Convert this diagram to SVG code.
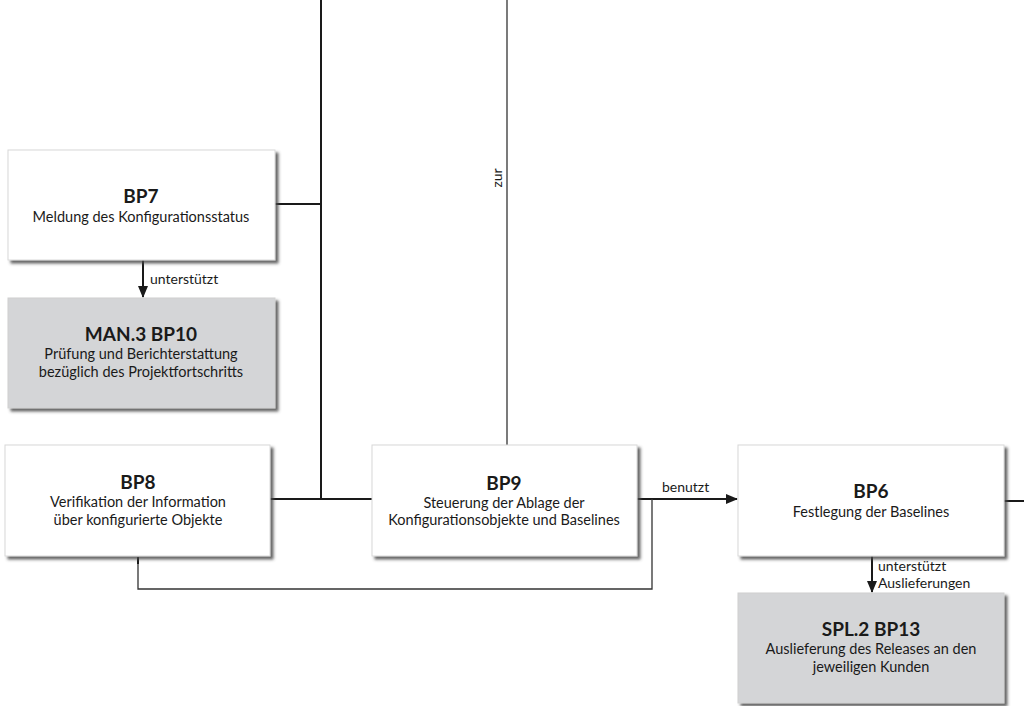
<svg xmlns="http://www.w3.org/2000/svg" width="1024" height="706" viewBox="0 0 1024 706">
  <defs>
    <filter id="shadow" x="-5%" y="-5%" width="115%" height="120%">
      <feDropShadow dx="3" dy="3" stdDeviation="1.4" flood-color="#4a4a4a" flood-opacity="0.85"/>
    </filter>
    <marker id="arrow" markerWidth="12" markerHeight="10" refX="11" refY="5" orient="auto" markerUnits="userSpaceOnUse">
      <path d="M0,0 L12,5 L0,10 z" fill="#1a1a1a"/>
    </marker>
  </defs>
  <style>
    .box { fill: #ffffff; stroke: #d8d8d8; stroke-width: 1; filter: url(#shadow); }
    .ext { fill: #d4d5d7; stroke: #d0d0d0; stroke-width: 1; filter: url(#shadow); }
    .node { font-family: Lato, "Open Sans", sans-serif; font-size: 14.5px; fill: #1a1a1a; text-anchor: middle; }
    .title { font-weight: bold; font-size: 19px; }
    .lbl { font-family: Lato, "Open Sans", sans-serif; font-size: 14px; fill: #1a1a1a; }
    .line { fill: none; stroke: #1a1a1a; stroke-width: 2; }
    .thin { fill: none; stroke: #333333; stroke-width: 1.3; }
  </style>

  <rect width="1024" height="706" fill="#ffffff"/>

  <!-- connectors -->
  <g id="connectors">
    <!-- trunk on the left, shared by BP7 and BP8 -->
    <path class="line" d="M321,0 V499"/>
    <path class="line" d="M275,204 H321"/>
    <path class="line" d="M270,499 H372"/>
    <!-- "zur" line into BP9 -->
    <path class="thin" d="M507,0 V445"/>
    <text class="lbl" transform="translate(502,178) rotate(-90)" text-anchor="middle">zur</text>
    <!-- BP7 supports MAN.3 BP10 -->
    <path class="line" d="M143,260 V297" marker-end="url(#arrow)"/>
    <text class="lbl" x="150" y="284">unterstützt</text>
    <!-- BP9 uses BP6 -->
    <path class="line" d="M637,499 H737" marker-end="url(#arrow)"/>
    <text class="lbl" x="662" y="492">benutzt</text>
    <!-- loop back from BP9 to BP8 -->
    <path class="thin" d="M652,499 V589 H138 V557"/>
    <path class="line" d="M138,557 V564"/>
    <!-- BP6 outgoing to the right -->
    <path class="line" d="M1004,501 H1024"/>
    <!-- BP6 supports SPL.2 BP13 -->
    <path class="line" d="M872,556 V592" marker-end="url(#arrow)"/>
    <text class="lbl" x="878" y="571">unterstützt</text>
    <text class="lbl" x="878" y="588">Auslieferungen</text>
  </g>

  <!-- BP7 -->
  <g id="bp7">
    <rect class="box" x="8" y="150" width="267" height="110"/>
    <text class="node title" x="141" y="203">BP7</text>
    <text class="node" x="141" y="222">Meldung des Konfigurationsstatus</text>
  </g>

  <!-- MAN.3 BP10 -->
  <g id="man3-bp10">
    <rect class="ext" x="8" y="298" width="267" height="110"/>
    <text class="node title" x="141" y="341">MAN.3 BP10</text>
    <text class="node" x="141" y="359">Prüfung und Berichterstattung</text>
    <text class="node" x="141" y="376.5">bezüglich des Projektfortschritts</text>
  </g>

  <!-- BP8 -->
  <g id="bp8">
    <rect class="box" x="5" y="445" width="265" height="111"/>
    <text class="node title" x="138" y="489">BP8</text>
    <text class="node" x="138" y="507">Verifikation der Information</text>
    <text class="node" x="138" y="524.5">über konfigurierte Objekte</text>
  </g>

  <!-- BP9 -->
  <g id="bp9">
    <rect class="box" x="372" y="445" width="265" height="111"/>
    <text class="node title" x="504" y="490">BP9</text>
    <text class="node" x="504" y="507.5">Steuerung der Ablage der</text>
    <text class="node" x="504" y="525">Konfigurationsobjekte und Baselines</text>
  </g>

  <!-- BP6 -->
  <g id="bp6">
    <rect class="box" x="738" y="445" width="266" height="111"/>
    <text class="node title" x="871" y="498">BP6</text>
    <text class="node" x="871" y="517">Festlegung der Baselines</text>
  </g>

  <!-- SPL.2 BP13 -->
  <g id="spl2-bp13">
    <rect class="ext" x="738" y="593" width="266" height="110"/>
    <text class="node title" x="871" y="636">SPL.2 BP13</text>
    <text class="node" x="871" y="654">Auslieferung des Releases an den</text>
    <text class="node" x="871" y="671.5">jeweiligen Kunden</text>
  </g>
</svg>
